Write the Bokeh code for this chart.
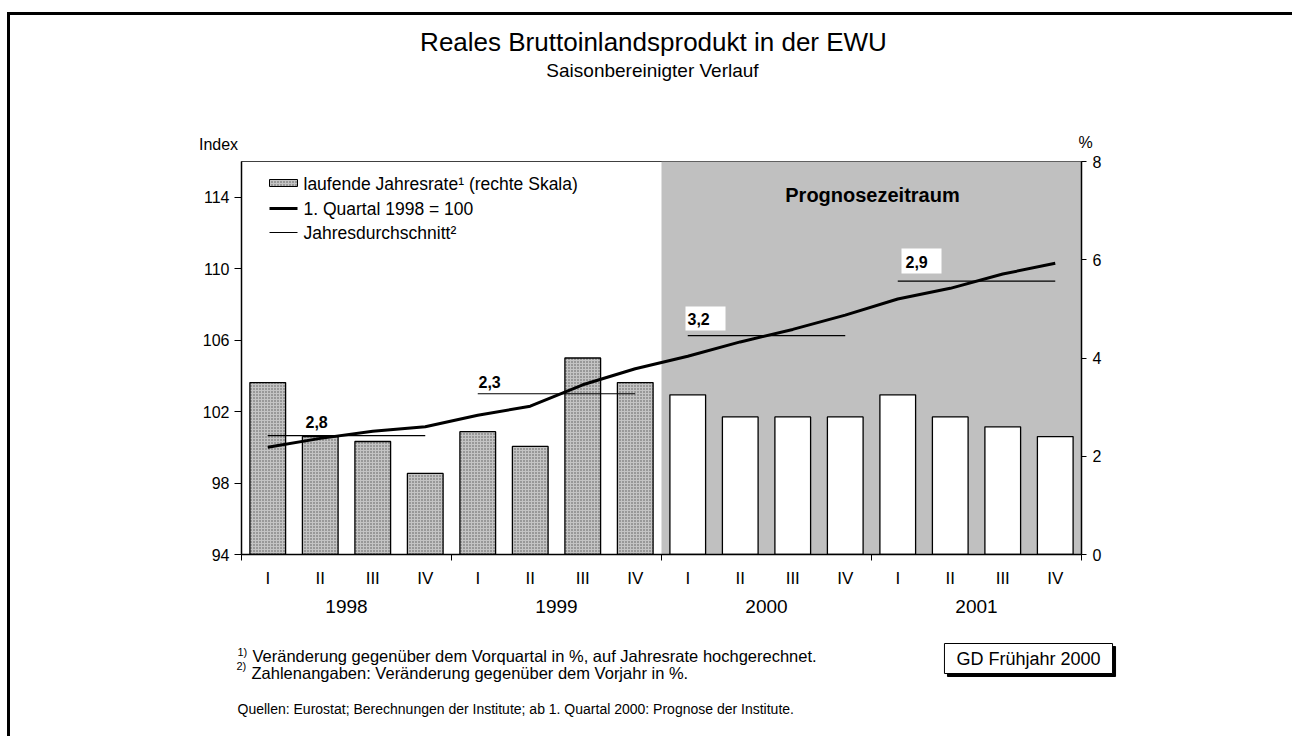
from bokeh.plotting import figure
from bokeh.models import Range1d, LinearAxis, FixedTicker, Label, BoxAnnotation
from bokeh.embed import file_html
from bokeh.resources import INLINE

# ---------------- data ----------------
years = ["1998", "1999", "2000", "2001"]
quarters = ["I", "II", "III", "IV"]
# laufende Jahresrate (% , right scale)
rate = [3.5, 2.4, 2.3, 1.65, 2.5, 2.2, 4.0, 3.5,
        3.25, 2.8, 2.8, 2.8, 3.25, 2.8, 2.6, 2.4]
# 1. Quartal 1998 = 100 (left scale)
index = [100.0, 100.5, 100.9, 101.15, 101.8, 102.3, 103.5, 104.4,
         105.1, 105.9, 106.6, 107.4, 108.3, 108.9, 109.7, 110.3]
# Jahresdurchschnitt (index level) and its growth label
annual_avg = [100.65, 103.0, 106.25, 109.3]
annual_growth = ["2,8", "2,3", "3,2", "2,9"]
n_hist = 8  # quarters before forecast period
left_ticks = [94, 98, 102, 106, 110, 114]
right_ticks = [0, 2, 4, 6, 8]
legend_labels = ["laufende Jahresrate\u00b9 (rechte Skala)", "1. Quartal 1998 = 100", "Jahresdurchschnitt\u00b2"]

FONT = "Liberation Sans"
W, H = 1292, 736
FL, FR, FT, FB = 241, 1081, 161, 554   # plot frame in page pixels

n = len(rate)
xc = [i + 0.5 for i in range(n)]

p = figure(width=W, height=H, x_range=Range1d(0, n), y_range=Range1d(94, 116),
           output_backend="svg", toolbar_location=None,
           x_axis_type=None, y_axis_type=None,
           min_border_left=FL, min_border_right=W - FR,
           min_border_top=FT, min_border_bottom=H - FB,
           styles={"background-image": "linear-gradient(#000,#000), linear-gradient(#000,#000)",
                   "background-size": "1292px 3px, 3px 730px",
                   "background-position": "7px 12px, 7px 12px",
                   "background-repeat": "no-repeat"})
p.extra_y_ranges = {"pct": Range1d(0, 8), "px": Range1d(FB, FT)}
p.extra_x_ranges = {"px": Range1d(FL, FR)}
p.background_fill_color = "white"
p.border_fill_color = None
p.outline_line_color = "#404040"
p.outline_line_width = 1

# forecast shading
p.add_layout(BoxAnnotation(left=n_hist, right=n, fill_color="#c0c0c0", fill_alpha=1,
                           line_color=None, level="underlay"))

# bars
p.vbar(x=xc[:n_hist], top=rate[:n_hist], bottom=0, width=0.68, y_range_name="pct",
       fill_color="#c4c4c4", hatch_pattern="dot", hatch_color="#555555",
       hatch_scale=3, hatch_weight=1, line_color="black", line_width=1.3)
p.vbar(x=xc[n_hist:], top=rate[n_hist:], bottom=0, width=0.68, y_range_name="pct",
       fill_color="white", line_color="black", line_width=1.3)

# annual averages
x0 = [4 * k + 0.5 for k in range(len(years))]
x1 = [4 * k + 3.5 for k in range(len(years))]
p.segment(x0=x0, x1=x1, y0=annual_avg, y1=annual_avg, line_color="black", line_width=1.2)

# index line
p.line(x=xc, y=index, line_color="black", line_width=3, line_join="round")

# white boxes behind forecast growth labels
p.quad(left=[685, 901], right=[725, 941], top=[306, 248], bottom=[330, 273],
       x_range_name="px", y_range_name="px", fill_color="white", line_color=None)

# axes
yl = LinearAxis(ticker=FixedTicker(ticks=left_ticks))
yr = LinearAxis(y_range_name="pct", ticker=FixedTicker(ticks=right_ticks))
for ax, out, stand in ((yl, 7, 5), (yr, 5, 6)):
    ax.axis_line_color = "black"
    ax.axis_line_width = 1.5
    ax.major_tick_out = out
    ax.major_tick_in = 0
    ax.minor_tick_line_color = None
    ax.minor_tick_out = 0
    ax.major_label_standoff = stand
    ax.major_label_text_font = FONT
    ax.major_label_text_font_size = "16px"
    ax.major_label_text_color = "black"
p.add_layout(yl, "left")
p.add_layout(yr, "right")

xq = LinearAxis(ticker=FixedTicker(ticks=xc, minor_ticks=[0, 4, 8, 12, 16]),
                major_label_overrides={c: quarters[i % 4] for i, c in enumerate(xc)})
xq.axis_line_color = "black"
xq.axis_line_width = 1.5
xq.major_tick_line_color = None
xq.major_tick_out = 0
xq.major_tick_in = 0
xq.minor_tick_out = 6
xq.minor_tick_in = 0
xq.minor_tick_line_color = "black"
xq.major_label_standoff = 8
xq.major_label_text_font = FONT
xq.major_label_text_font_size = "17px"
xq.major_label_text_color = "black"
p.add_layout(xq, "below")

yc = [4 * k + 2.0 for k in range(len(years))]
xy = LinearAxis(ticker=FixedTicker(ticks=yc),
                major_label_overrides={c: years[k] for k, c in enumerate(yc)})
xy.axis_line_color = None
xy.major_tick_line_color = None
xy.minor_tick_line_color = None
xy.major_tick_out = 0
xy.minor_tick_out = 0
xy.major_label_standoff = 9
xy.major_label_text_font = FONT
xy.major_label_text_font_size = "19px"
xy.major_label_text_color = "black"
p.add_layout(xy, "below")


def lab(x, y, text, size, align="left", bold=False, place="center", color="black", **kw):
    # inside the frame: page pixels -> frame-relative screen units
    # in side panels: x, y are relative to the label's own panel slot
    if place == "center":
        x, y = x - FL, FB - y
    l = Label(x=x, y=y, x_units="screen", y_units="screen", text=text,
              text_font=FONT, text_font_size=f"{size}px", text_align=align,
              text_baseline="middle", text_color=color,
              text_font_style="bold" if bold else "normal", **kw)
    p.add_layout(l, place)
    return l


# legend (manual)
p.quad(left=[269], right=[297], top=[179], bottom=[186], x_range_name="px", y_range_name="px",
       fill_color="#c4c4c4", hatch_pattern="dot", hatch_color="#555555", hatch_scale=3,
       line_color="black", line_width=1)
p.segment(x0=[269], x1=[297], y0=[208], y1=[208], x_range_name="px", y_range_name="px",
          line_color="black", line_width=3)
p.segment(x0=[269], x1=[297], y0=[232], y1=[232], x_range_name="px", y_range_name="px",
          line_color="black", line_width=1)
for txt, yy in zip(legend_labels, (183, 208, 232)):
    lab(303, yy, txt, 17.5)

# growth labels
label_pos = [(305, 421), (478, 381), (687, 318), (905, 261)]
for txt, (lx, ly) in zip(annual_growth, label_pos):
    lab(lx, ly, txt, 16, bold=True)

lab(872, 194, "Prognosezeitraum", 20, align="center", bold=True)

# ---- texts outside the frame (side panels, offsets relative to each slot) ----
lab(844, 19, "%", 16, align="center", place="above")
lab(-23, 0, "Index", 16, align="center", place="above")
lab(411, 57, "Saisonbereinigter Verlauf", 19, align="center", place="above")
lab(412, 65, "Reales Bruttoinlandsprodukt in der EWU", 26, align="center", place="above")
lab(790, -585, "GD Fr\u00fchjahr 2000", 18, align="center", place="above", color="black",
    background_fill_color="black", border_line_color="black", padding=(12, 5))
lab(787, -612, "GD Fr\u00fchjahr 2000", 18, align="center", place="above",
    background_fill_color="white", border_line_color="black", border_line_width=1, padding=(12, 5))

lab(11, -22, "Ver\u00e4nderung gegen\u00fcber dem Vorquartal in %, auf Jahresrate hochgerechnet.", 16.5, place="below")
lab(10, -21, "Zahlenangaben: Ver\u00e4nderung gegen\u00fcber dem Vorjahr in %.", 16.5, place="below")
lab(-4, -41, "Quellen: Eurostat; Berechnungen der Institute; ab 1. Quartal 2000: Prognose der Institute.", 14, place="below")
lab(-4, 28, "1)", 11, place="below")
lab(-5, 26, "2)", 11, place="below")

open("out.html", "w").write(file_html(p, INLINE))
